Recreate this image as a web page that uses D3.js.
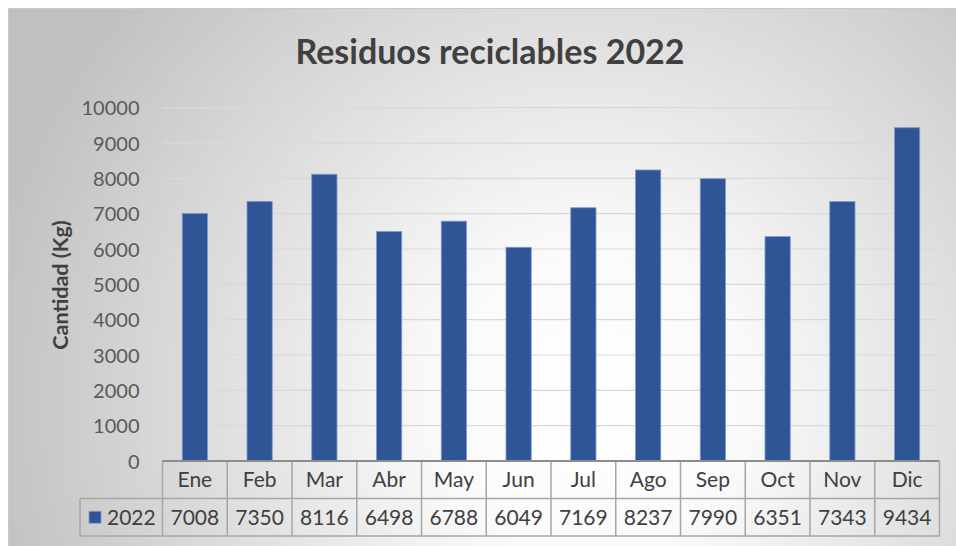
<!doctype html>
<html>
<head>
<meta charset="utf-8">
<style>
  body { margin: 0; background: #fff; }
  text { font-family: Lato, "Noto Sans", sans-serif; }
</style>
<script src="https://d3js.org/d3.v7.min.js"></script>
</head>
<body>
<svg width="956" height="546"></svg>
<script>
var months = ["Ene", "Feb", "Mar", "Abr", "May", "Jun", "Jul", "Ago", "Sep", "Oct", "Nov", "Dic"];
var values2022 = [7008, 7350, 8116, 6498, 6788, 6049, 7169, 8237, 7990, 6351, 7343, 9434];
var seriesName = "2022";
var yTicks = [0, 1000, 2000, 3000, 4000, 5000, 6000, 7000, 8000, 9000, 10000];

var svg = d3.select("svg");
var plotLeft = 162.5, plotRight = 939.5, plotTop = 107.7, plotBottom = 461;
var rowH = 37.5, legendLeft = 80;

var defs = svg.append("defs");
var grad = defs.append("radialGradient")
  .attr("id", "bg")
  .attr("gradientUnits", "userSpaceOnUse")
  .attr("cx", 590).attr("cy", 400).attr("r", 620);
grad.append("stop").attr("offset", 0).attr("stop-color", "#ffffff");
grad.append("stop").attr("offset", 0.25).attr("stop-color", "#fafafa");
grad.append("stop").attr("offset", 1).attr("stop-color", "#c0c0c0");

// chart background + border
svg.append("rect")
  .attr("x", 8.5).attr("y", 8.5)
  .attr("width", 960).attr("height", 560)
  .attr("fill", "url(#bg)")
  .attr("stroke", "#c9c9c9");

// title
svg.append("text")
  .attr("x", 490).attr("y", 64)
  .attr("text-anchor", "middle")
  .attr("font-size", 34)
  .attr("font-weight", "bold")
  .attr("fill", "#404040")
  .text("Residuos reciclables 2022");

var x = d3.scaleBand().domain(months).range([plotLeft, plotRight])
  .paddingInner(0.61).paddingOuter(0.305);
var y = d3.scaleLinear().domain([0, 10000]).range([plotBottom, plotTop]);

// gridlines
svg.append("g").selectAll("line")
  .data(yTicks.slice(1))
  .enter().append("line")
  .attr("x1", plotLeft).attr("x2", plotRight)
  .attr("y1", function(d) { return y(d); })
  .attr("y2", function(d) { return y(d); })
  .attr("stroke", "#d9d9d9")
  .attr("stroke-width", 1.2);

// y axis labels
var yAxis = svg.append("g")
  .attr("transform", "translate(" + (plotLeft - 23) + ",0)")
  .call(d3.axisLeft(y).tickValues(yTicks).tickSize(0).tickPadding(0).tickFormat(d3.format("d")));
yAxis.select(".domain").remove();
yAxis.selectAll("text")
  .attr("font-size", 20)
  .attr("fill", "#595959")
  .attr("font-family", "Lato, sans-serif")
  .attr("dy", "0.36em");

// axis title
svg.append("text")
  .attr("transform", "translate(68,285) rotate(-90)")
  .attr("text-anchor", "middle")
  .attr("font-size", 21.5)
  .attr("font-weight", "bold")
  .attr("fill", "#404040")
  .text("Cantidad (Kg)");

// bars
svg.append("g").selectAll("rect")
  .data(values2022)
  .enter().append("rect")
  .attr("x", function(d, i) { return x(months[i]); })
  .attr("y", function(d) { return y(d); })
  .attr("width", x.bandwidth())
  .attr("height", function(d) { return plotBottom - y(d); })
  .attr("fill", "#2f5597")
  .attr("stroke", "#7f9bd0")
  .attr("stroke-width", 0.8);

// data table
var tbl = svg.append("g");
var step = x.step();
var cellX = function(i) { return plotLeft + i * step; };

tbl.selectAll(".cat")
  .data(months)
  .enter().append("text")
  .attr("class", "cat")
  .attr("x", function(d, i) { return cellX(i) + step / 2; })
  .attr("y", plotBottom + rowH / 2)
  .attr("dy", "0.36em")
  .attr("text-anchor", "middle")
  .attr("font-size", 21)
  .attr("fill", "#404040")
  .text(function(d) { return d; });

tbl.selectAll(".val")
  .data(values2022)
  .enter().append("text")
  .attr("class", "val")
  .attr("x", function(d, i) { return cellX(i) + step / 2; })
  .attr("y", plotBottom + rowH * 1.5)
  .attr("dy", "0.36em")
  .attr("text-anchor", "middle")
  .attr("font-size", 21)
  .attr("fill", "#404040")
  .text(function(d) { return d; });

// legend cell
tbl.append("rect")
  .attr("x", 89).attr("y", plotBottom + rowH * 1.5 - 6)
  .attr("width", 12).attr("height", 12)
  .attr("fill", "#2f5597")
  .attr("stroke", "#7f9bd0")
  .attr("stroke-width", 0.8);
tbl.append("text")
  .attr("x", 107).attr("y", plotBottom + rowH * 1.5)
  .attr("dy", "0.36em")
  .attr("font-size", 21)
  .attr("fill", "#404040")
  .text(seriesName);

// table grid lines
var lines = [];
lines.push([plotLeft, plotBottom + rowH, plotRight, plotBottom + rowH]);
lines.push([legendLeft, plotBottom + rowH, legendLeft, plotBottom + 2 * rowH]);
lines.push([legendLeft, plotBottom + 2 * rowH, plotRight, plotBottom + 2 * rowH]);
lines.push([legendLeft, plotBottom + rowH, plotLeft, plotBottom + rowH]);
d3.range(months.length + 1).forEach(function(i) {
  lines.push([cellX(i), plotBottom, cellX(i), plotBottom + 2 * rowH]);
});
tbl.selectAll(".grid")
  .data(lines)
  .enter().append("line")
  .attr("x1", function(d) { return d[0]; })
  .attr("y1", function(d) { return d[1]; })
  .attr("x2", function(d) { return d[2]; })
  .attr("y2", function(d) { return d[3]; })
  .attr("stroke", "#a6a6a6")
  .attr("stroke-width", 1.5);

// category axis line (top of table)
svg.append("line")
  .attr("x1", plotLeft).attr("x2", plotRight)
  .attr("y1", plotBottom).attr("y2", plotBottom)
  .attr("stroke", "#8c8c8c")
  .attr("stroke-width", 2);
</script>
</body>
</html>
